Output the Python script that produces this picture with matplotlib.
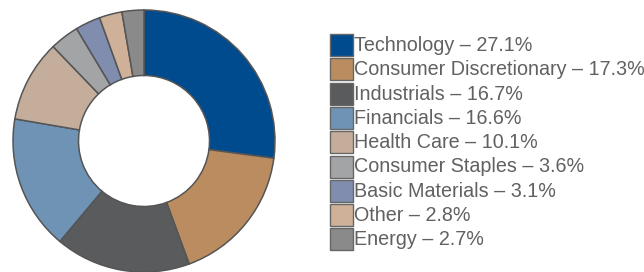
import matplotlib.pyplot as plt
from matplotlib.patches import Rectangle

# --- Data ---
sectors = ["Technology", "Consumer Discretionary", "Industrials", "Financials",
           "Health Care", "Consumer Staples", "Basic Materials", "Other", "Energy"]
weights = [27.1, 17.3, 16.7, 16.6, 10.1, 3.6, 3.1, 2.8, 2.7]
colors = ["#004B8D", "#BA8C60", "#5A5B5D", "#6E93B5", "#C4AE9B",
          "#A3A4A6", "#808DAF", "#CFB19A", "#8A8A8A"]

plt.rcParams["font.family"] = ["Liberation Sans", "DejaVu Sans"]

W, H = 644, 272
fig = plt.figure(figsize=(W / 100, H / 100), dpi=100)

# donut: centre (144, 141) px from top-left, radius 131 px
cx, cy, r = 144, 141, 131
ax = fig.add_axes([(cx - r) / W, (H - cy - r) / H, 2 * r / W, 2 * r / H])
wedges, _ = ax.pie(weights, colors=colors, startangle=90, counterclock=False,
                   radius=1, wedgeprops=dict(width=0.5, edgecolor="#555555", linewidth=1.1))
for w in wedges:
    w.set_clip_on(False)
ax.set_xlim(-1, 1)
ax.set_ylim(-1, 1)
ax.set_aspect("equal")
ax.axis("off")

# --- Legend (drawn by hand) ---
x0, y0, step = 330, 34, 24.3
for i, (name, val, col) in enumerate(zip(sectors, weights, colors)):
    top = y0 + i * step
    fig.add_artist(Rectangle((x0 / W, (H - top - 22) / H), 23 / W, 22 / H,
                             transform=fig.transFigure, facecolor=col,
                             edgecolor="#666666", linewidth=1.0))
    fig.text((x0 + 24) / W, (H - top - 11.5) / H, f"{name} \u2013 {val}%",
             fontsize=14.2, color="#616161", va="center", ha="left")

fig.savefig("out.png", dpi=100)
